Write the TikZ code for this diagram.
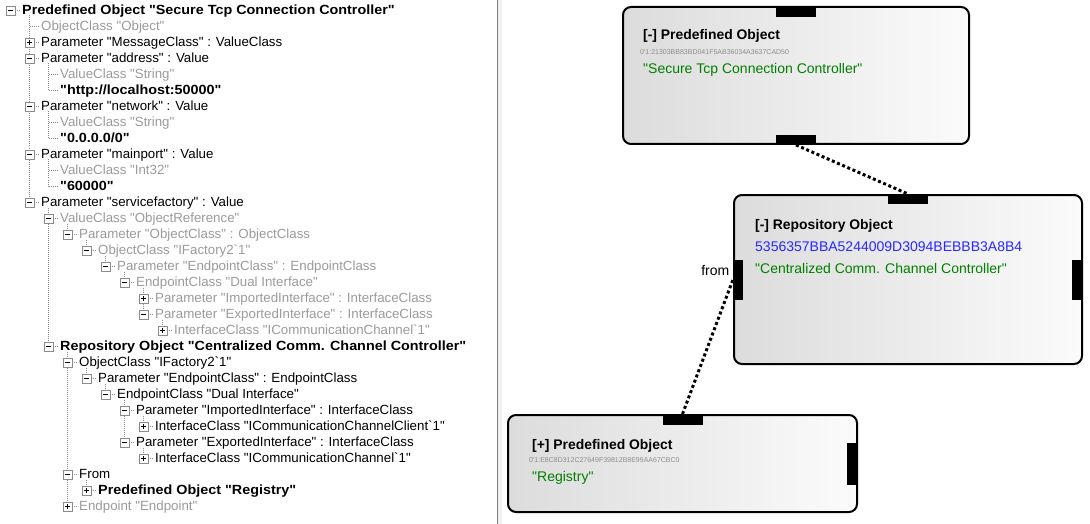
\documentclass[tikz,border=0pt]{standalone}
\usepackage{fontspec}
\setmainfont{Liberation Sans}[Ligatures=TeXOff]
\newfontfamily\tvwide[FakeStretch=1.08]{Liberation Sans}
\definecolor{tvgray}{RGB}{155,155,155}
\definecolor{tvline}{RGB}{140,140,140}
\definecolor{tvgreen}{RGB}{0,128,0}
\definecolor{tvblue}{RGB}{40,40,255}
\definecolor{boxL}{RGB}{220,220,220}
\definecolor{boxR}{RGB}{251,251,251}
\definecolor{hexgray}{RGB}{140,140,140}
\pgfdeclarelayer{bg}
\pgfsetlayers{bg,main}
\tikzset{
  treefont/.style={font=\fontsize{13.3}{16}\selectfont, inner sep=0pt},
  tblack/.style={treefont, text=black},
  tgray/.style={treefont, text=tvgray},
  tbold/.style={inner sep=0pt, font=\fontsize{13.3}{16}\selectfont\tvwide\bfseries, text=black},
  treeline/.style={draw=tvline, line width=1pt, dash pattern=on 1pt off 1pt},
  exbox/.style={draw=tvline, fill=white, minimum size=9pt, inner sep=0pt, line width=0.8pt},
  exminus/.style={exbox, path picture={\draw[black,line width=1pt] ([xshift=-2.5pt]path picture bounding box.center) -- ([xshift=2.5pt]path picture bounding box.center);}},
  explus/.style={exbox, path picture={\draw[black,line width=1pt] ([xshift=-2.5pt]path picture bounding box.center) -- ([xshift=2.5pt]path picture bounding box.center) ([yshift=-2.5pt]path picture bounding box.center) -- ([yshift=2.5pt]path picture bounding box.center);}},
  objbox/.style={draw=black, line width=2pt, rounded corners=8pt, left color=boxL, right color=boxR, anchor=north west, inner sep=0pt},
  tabbox/.style={fill=black, inner sep=0pt, draw=none},
  htab/.style={tabbox, minimum width=40pt, minimum height=11pt},
  vtab/.style={tabbox, minimum width=11pt, minimum height=40pt},
  boxtitle/.style={inner sep=0pt, anchor=base west, font=\fontsize{13.9}{16}\selectfont\bfseries, text=black},
  boxhex/.style={inner sep=0pt, anchor=base west, font=\fontsize{7}{8}\selectfont, text=hexgray},
  boxgreen/.style={inner sep=0pt, anchor=base west, font=\fontsize{14}{16}\selectfont, text=tvgreen},
  boxblue/.style={inner sep=0pt, anchor=base west, font=\fontsize{14}{16}\selectfont, text=tvblue},
  portlabel/.style={inner sep=0pt, anchor=base east, font=\fontsize{14}{16}\selectfont, text=black},
  conn/.style={draw=black, line width=3pt, dash pattern=on 3pt off 2.6pt},
}
\newcommand\tvrow[5]{%
  \pgfmathsetmacro\tvy{10+16*#1}%
  \pgfmathsetmacro\tvx{22+19*#2}%
  \pgfmathsetmacro\tvex{22+19*#2-11.5}%
  \node[#4, anchor=base west] (r#1) at (\tvx,\tvy+4.7) {#5};%
  \coordinate (e#1) at (\tvex,\tvy+0.5);%
  \draw[treeline, shorten >=1.5pt] (e#1) -- (e#1 -| r#1.west);%
  \ifcase#3\or\node[explus] (x#1) at (e#1) {};\or\node[exminus] (x#1) at (e#1) {};\fi
}
\begin{document}
\begin{tikzpicture}[x=1pt, y=-1pt]
\useasboundingbox (0,0) rectangle (1090,524);
\begin{pgfonlayer}{bg}
\fill[white] (0,0) rectangle (1090,524);
\fill[black!6] (498,0) rectangle (502,524);
\draw[black!50, line width=1pt] (497.5,0) -- (497.5,524);
\end{pgfonlayer}

% ---------------- tree view ----------------
\tvrow{0}{0}{2}{tbold}{Predefined Object "Secure Tcp Connection Controller"}
\tvrow{1}{1}{0}{tgray}{ObjectClass "Object"}
\tvrow{2}{1}{1}{tblack}{Parameter "MessageClass" : ValueClass}
\tvrow{3}{1}{2}{tblack}{Parameter "address" : Value}
\tvrow{4}{2}{0}{tgray}{ValueClass "String"}
\tvrow{5}{2}{0}{tbold}{"http://localhost:50000"}
\tvrow{6}{1}{2}{tblack}{Parameter "network" : Value}
\tvrow{7}{2}{0}{tgray}{ValueClass "String"}
\tvrow{8}{2}{0}{tbold}{"0.0.0.0/0"}
\tvrow{9}{1}{2}{tblack}{Parameter "mainport" : Value}
\tvrow{10}{2}{0}{tgray}{ValueClass "Int32"}
\tvrow{11}{2}{0}{tbold}{"60000"}
\tvrow{12}{1}{2}{tblack}{Parameter "servicefactory" : Value}
\tvrow{13}{2}{2}{tgray}{ValueClass "ObjectReference"}
\tvrow{14}{3}{2}{tgray}{Parameter "ObjectClass" : ObjectClass}
\tvrow{15}{4}{2}{tgray}{ObjectClass "IFactory2\textasciigrave 1"}
\tvrow{16}{5}{2}{tgray}{Parameter "EndpointClass" : EndpointClass}
\tvrow{17}{6}{2}{tgray}{EndpointClass "Dual Interface"}
\tvrow{18}{7}{1}{tgray}{Parameter "ImportedInterface" : InterfaceClass}
\tvrow{19}{7}{2}{tgray}{Parameter "ExportedInterface" : InterfaceClass}
\tvrow{20}{8}{1}{tgray}{InterfaceClass "ICommunicationChannel\textasciigrave 1"}
\tvrow{21}{2}{2}{tbold}{Repository Object "Centralized Comm. Channel Controller"}
\tvrow{22}{3}{2}{tblack}{ObjectClass "IFactory2\textasciigrave 1"}
\tvrow{23}{4}{2}{tblack}{Parameter "EndpointClass" : EndpointClass}
\tvrow{24}{5}{2}{tblack}{EndpointClass "Dual Interface"}
\tvrow{25}{6}{2}{tblack}{Parameter "ImportedInterface" : InterfaceClass}
\tvrow{26}{7}{1}{tblack}{InterfaceClass "ICommunicationChannelClient\textasciigrave 1"}
\tvrow{27}{6}{2}{tblack}{Parameter "ExportedInterface" : InterfaceClass}
\tvrow{28}{7}{1}{tblack}{InterfaceClass "ICommunicationChannel\textasciigrave 1"}
\tvrow{29}{3}{2}{tblack}{From}
\tvrow{30}{4}{1}{tbold}{Predefined Object "Registry"}
\tvrow{31}{3}{1}{tgray}{Endpoint "Endpoint"}

\begin{pgfonlayer}{bg}
\foreach \p/\c in {0/12,3/5,6/8,9/11,12/21,13/14,14/15,15/16,16/17,17/19,19/20,21/31,22/23,23/24,24/27,25/26,27/28,29/30}
  \draw[treeline, shorten <=5pt] (e\c |- e\p) -- (e\c);
\end{pgfonlayer}

% ---------------- diagram ----------------
\node[objbox, minimum width=346pt, minimum height=137pt] (b1) at (622,6) {};
\node[htab, anchor=north] (b1t) at (b1.north) {};
\node[htab, anchor=south, minimum height=10pt] (b1b) at (b1.south) {};
\node[boxtitle] (b1h) at (643,40) {[-] Predefined Object};
\node[boxhex] (b1i) at (640,54.5) {0\textquotesingle 1:21303BB83BD041F5AB36034A3637CAD50};
\node[boxgreen] (b1n) at (643,74) {"Secure Tcp Connection Controller"};

\node[objbox, minimum width=348pt, minimum height=169pt] (b2) at (733,194) {};
\node[htab, anchor=north, minimum height=10pt] (b2t) at (b2.north) {};
\node[vtab, anchor=west, minimum width=10pt] (b2l) at (b2.west) {};
\node[vtab, anchor=east, minimum width=11pt] (b2r) at (b2.east) {};
\node[boxtitle] (b2h) at (755,229) {[-] Repository Object};
\node[boxblue] (b2i) at (755,251.7) {5356357BBA5244009D3094BEBBB3A8B4};
\node[boxgreen] (b2n) at (755,273) {"Centralized Comm. Channel Controller"};
\node[portlabel] (from) at (729.5,275.5) {from};

\node[objbox, minimum width=349pt, minimum height=97pt] (b3) at (507,414) {};
\node[htab, anchor=north] (b3t) at (b3.north) {};
\node[vtab, anchor=east, minimum width=11pt, minimum height=42pt] (b3r) at (b3.east) {};
\node[boxtitle] (b3h) at (532,449) {[+] Predefined Object};
\node[boxhex] (b3i) at (529,462.5) {0\textquotesingle 1:E8C8D312C27649F39812B8E99AA67CBC0};
\node[boxgreen] (b3n) at (532,481.7) {"Registry"};

\draw[conn] (b1b.south) -- (b2t.north);
\draw[conn] (b3t.north) -- (b2l.west);
\end{tikzpicture}
\end{document}
